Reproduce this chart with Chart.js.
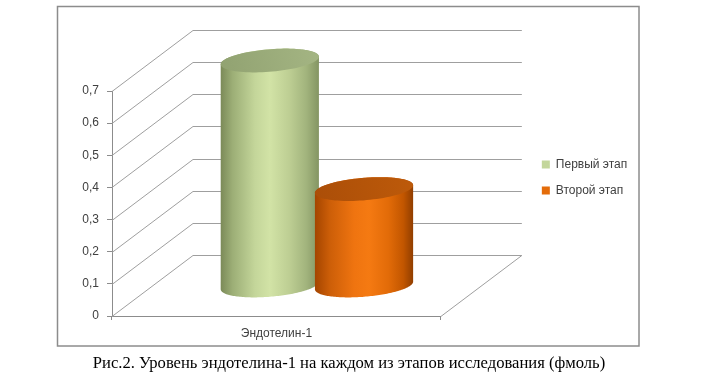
<!DOCTYPE html>
<html>
<head>
<meta charset="utf-8">
<script src="https://cdn.jsdelivr.net/npm/chart.js@4.4.0/dist/chart.umd.min.js"></script>
<style>
  html, body { margin: 0; padding: 0; background: #fff; }
  #wrap { position: relative; width: 711px; height: 390px; }
  #caption {
    position: absolute; left: 0; top: 353px; width: 698px; text-align: center;
    font-family: "Liberation Serif", "Times New Roman", serif; font-size: 16.6px;
    line-height: 20px; color: #000; white-space: nowrap;
  }
</style>
</head>
<body>
<div id="wrap">
  <canvas id="c" width="711" height="390"></canvas>
  <div id="caption">Рис.2. Уровень эндотелина-1 на каждом из этапов исследования (фмоль)</div>
</div>
<script>
// ---- data ----
const categories = ['Эндотелин-1'];
const seriesNames = ['Первый этап', 'Второй этап'];
const firstStage = [0.7];
const secondStage = [0.3];
const yTickLabels = ['0', '0,1', '0,2', '0,3', '0,4', '0,5', '0,6', '0,7'];

// ---- styling ----
const FONT = 'Liberation Sans';
const TEXT = '#404040';
const AXIS = '#8c8c8c';
const GRID = '#9f9f9f';
const DEPTH = { dx: 81, dy: -61 };
const CYL = { zc: 0.5, rz: 0.195 };
const palettes = [
  {
    legend: '#c3d69b',
    body: [[0, '#7b8a58'], [0.12, '#9cae76'], [0.35, '#c4d69a'], [0.5, '#d2e3a6'], [0.7, '#bdce93'], [0.87, '#a2b47d'], [1, '#849563']],
    cap: ['#91a271', '#a4b583']
  },
  {
    legend: '#e46c0a',
    body: [[0, '#a44500'], [0.15, '#cc5e08'], [0.4, '#ef7410'], [0.55, '#f57a12'], [0.75, '#e26b08'], [0.9, '#c25600'], [1, '#913e00']],
    cap: ['#ab4e08', '#bd5a0a']
  }
];

// legend placement: box column starts at x = 541, plot right edge at 440
const LEG_PAD = 14, LEG_BOX = 8, LEG_FS = 12;
const mctx = document.createElement('canvas').getContext('2d');
mctx.font = LEG_FS + 'px "' + FONT + '"';
const legTextW = Math.max(...seriesNames.map(s => mctx.measureText(s).width));
const legWidth = LEG_PAD + LEG_BOX + LEG_FS / 2 + legTextW + 10;
const legLeft = 541 - LEG_PAD;
const padRight = 711 - legLeft - legWidth + 3;
const gapAxisW = legLeft - 440;

function cylinder(ctx, cx, halfW, yTop, yBase, pal) {
  const a = DEPTH.dx * CYL.rz, b = -DEPTH.dy * CYL.rz;
  const ox = DEPTH.dx * CYL.zc, oy = DEPTH.dy * CYL.zc;
  const P = (base, t) => [cx + ox + halfW * Math.cos(t) + a * Math.sin(t), base + oy - b * Math.sin(t)];
  const t1 = Math.atan2(a, halfW);
  const sw = Math.hypot(halfW, a);
  const xl = cx + ox - sw, xr = cx + ox + sw;
  const N = 90;
  ctx.beginPath();
  for (let k = 0; k <= N; k++) {
    const [px, py] = P(yTop, t1 + Math.PI * k / N);
    if (k === 0) ctx.moveTo(px, py); else ctx.lineTo(px, py);
  }
  for (let k = 0; k <= N; k++) {
    const [px, py] = P(yBase, t1 + Math.PI + Math.PI * k / N);
    ctx.lineTo(px, py);
  }
  ctx.closePath();
  const g = ctx.createLinearGradient(xl, 0, xr, 0);
  pal.body.forEach(([s, c]) => g.addColorStop(s, c));
  ctx.fillStyle = g;
  ctx.fill();
  ctx.beginPath();
  for (let k = 0; k <= N; k++) {
    const [px, py] = P(yTop, 2 * Math.PI * k / N);
    if (k === 0) ctx.moveTo(px, py); else ctx.lineTo(px, py);
  }
  ctx.closePath();
  const gc = ctx.createLinearGradient(xl, yTop + oy + b, xr, yTop + oy - b);
  gc.addColorStop(0, pal.cap[0]);
  gc.addColorStop(1, pal.cap[1]);
  ctx.fillStyle = gc;
  ctx.fill();
}

const frame3d = {
  id: 'frame3d',
  beforeDraw(chart) {
    const ctx = chart.ctx;
    ctx.save();
    ctx.fillStyle = '#fff';
    ctx.fillRect(0, 0, chart.width, chart.height);
    ctx.strokeStyle = '#8c8c8c';
    ctx.lineWidth = 1.5;
    ctx.strokeRect(57.5, 6.5, 581.5, 339.5);
    ctx.restore();
  },
  beforeDatasetsDraw(chart) {
    const { ctx, chartArea: a, scales: { y } } = chart;
    ctx.save();
    ctx.strokeStyle = GRID;
    ctx.lineWidth = 1;
    y.ticks.forEach((t, i) => {
      const py = Math.round(y.getPixelForTick(i)) + 0.5;
      ctx.beginPath();
      ctx.moveTo(a.left, py);
      ctx.lineTo(a.left + DEPTH.dx, py + DEPTH.dy);
      ctx.lineTo(a.right + DEPTH.dx, py + DEPTH.dy);
      ctx.stroke();
    });
    const pb = Math.round(y.getPixelForValue(0)) + 0.5;
    ctx.beginPath();
    ctx.moveTo(a.right, pb);
    ctx.lineTo(a.right + DEPTH.dx, pb + DEPTH.dy);
    ctx.stroke();
    ctx.restore();
  },
  beforeDatasetDraw() { return false; },
  afterDatasetsDraw(chart) {
    const ctx = chart.ctx;
    const y = chart.scales.y;
    ctx.save();
    chart.data.datasets.forEach((ds, di) => {
      const meta = chart.getDatasetMeta(di);
      meta.data.forEach((bar, i) => {
        const yTop = y.getPixelForValue(ds.data[i]);
        const yBase = y.getPixelForValue(0);
        cylinder(ctx, bar.x, bar.width / 2, yTop, yBase, palettes[di]);
      });
    });
    ctx.restore();
  }
};

new Chart(document.getElementById('c'), {
  type: 'bar',
  data: {
    labels: categories,
    datasets: [
      { label: seriesNames[0], data: firstStage, backgroundColor: palettes[0].legend },
      { label: seriesNames[1], data: secondStage, backgroundColor: palettes[1].legend }
    ]
  },
  options: {
    responsive: false,
    animation: false,
    events: [],
    categoryPercentage: 0.573,
    barPercentage: 0.987,
    layout: { padding: { left: 0, top: 91, right: padRight, bottom: 0 } },
    plugins: {
      tooltip: { enabled: false },
      legend: {
        position: 'right',
        align: 'start',
        title: { display: true, text: '', padding: { top: 0, bottom: 41.5 }, font: { size: 10 } },
        labels: { boxWidth: LEG_BOX, boxHeight: LEG_BOX, padding: LEG_PAD, color: TEXT, font: { family: FONT, size: LEG_FS } }
      }
    },
    scales: {
      x: {
        ticks: { color: TEXT, font: { family: FONT, size: 12 }, padding: 6 },
        grid: { drawOnChartArea: false, tickLength: 4, color: AXIS, offset: true },
        border: { display: true, color: AXIS },
        afterFit: s => { s.height = 74; }
      },
      y: {
        min: 0, max: 0.7,
        ticks: { stepSize: 0.1, padding: 8, color: TEXT, font: { family: FONT, size: 12 },
                 callback: (v, i) => yTickLabels[i] },
        grid: { drawOnChartArea: false, tickLength: 5, color: AXIS },
        border: { display: true, color: AXIS },
        afterFit: s => { s.width = 112; }
      },
      y2: {
        position: 'right',
        ticks: { display: false },
        grid: { display: false },
        border: { display: false },
        afterFit: s => { s.width = gapAxisW; }
      }
    }
  },
  plugins: [frame3d]
});
</script>
</body>
</html>
